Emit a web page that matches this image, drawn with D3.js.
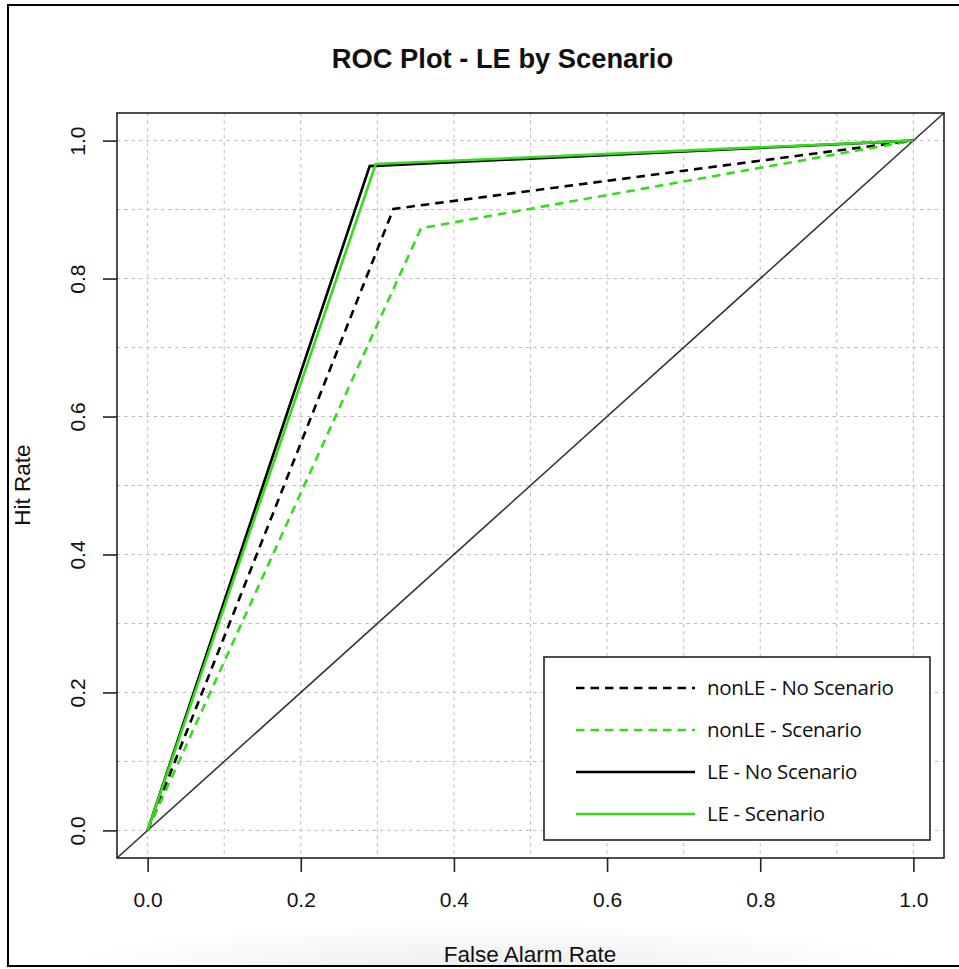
<!DOCTYPE html>
<html>
<head>
<meta charset="utf-8">
<script src="https://cdn.jsdelivr.net/npm/d3@7"></script>
<style>
  html, body { margin: 0; padding: 0; background: #fff; }
  svg { display: block; }
</style>
</head>
<body>
<svg id="chart" width="959" height="969"></svg>
<script>
// ROC curves: one threshold each, so (0,0) -> (fpr,tpr) -> (1,1)
const seriesNames = ['nonLE - No Scenario', 'nonLE - Scenario', 'LE - No Scenario', 'LE - Scenario'];
const falseAlarm = [0.321, 0.357, 0.290, 0.298];
const hitRate = [0.901, 0.873, 0.963, 0.966];
const tickValues = [0, 0.2, 0.4, 0.6, 0.8, 1.0];
const gridValues = [0, 0.1, 0.2, 0.3, 0.4, 0.5, 0.6, 0.7, 0.8, 0.9, 1.0];

const seriesColors = ['#000000', '#33dd1a', '#000000', '#33dd1a'];
const seriesDash = ['8.5,6', '8.5,6', null, null];

const svg = d3.select('#chart');
const box = {left: 117, right: 944, top: 113, bottom: 858};
const fontFam = 'Liberation Sans, Arial, sans-serif';

let x = d3.scaleLinear().domain([-0.04, 1.04]).range([box.left, box.right]);
let y = d3.scaleLinear().domain([-0.04, 1.04]).range([box.bottom, box.top]);

// faint shadow along the bottom of the screenshot
let defs = svg.append('defs');
let grad = defs.append('radialGradient').attr('id', 'shade')
	.attr('cx', 0.5).attr('cy', 1).attr('r', 0.5);
grad.append('stop').attr('offset', '0%').attr('stop-color', '#000').attr('stop-opacity', 0.07);
grad.append('stop').attr('offset', '100%').attr('stop-color', '#000').attr('stop-opacity', 0);
svg.append('rect')
	.attr('x', 60).attr('y', 880).attr('width', 860).attr('height', 86)
	.attr('fill', 'url(#shade)');

// outer frame
svg.append('path')
	.attr('d', 'M970,5 H8 V966 H970')
	.attr('fill', 'none').attr('stroke', '#000').attr('stroke-width', 2);

// grid
let grid = svg.append('g');
grid.selectAll('.gx').data(gridValues).enter().append('line')
	.attr('x1', d => x(d)).attr('x2', d => x(d))
	.attr('y1', box.top).attr('y2', box.bottom)
	.attr('stroke', '#bdbdbd').attr('stroke-width', 1).attr('stroke-dasharray', '3.5,3.8');
grid.selectAll('.gy').data(gridValues).enter().append('line')
	.attr('y1', d => y(d)).attr('y2', d => y(d))
	.attr('x1', box.left).attr('x2', box.right)
	.attr('stroke', '#bdbdbd').attr('stroke-width', 1).attr('stroke-dasharray', '3.5,3.8');

// reference diagonal across the whole plot box
svg.append('line')
	.attr('x1', x(-0.04)).attr('y1', y(-0.04))
	.attr('x2', x(1.04)).attr('y2', y(1.04))
	.attr('stroke', '#333').attr('stroke-width', 1.6);

// curves
let line = d3.line().x(d => x(d[0])).y(d => y(d[1]));
for(let i=0; i<seriesNames.length; i++){
	let pts = [[0, 0], [falseAlarm[i], hitRate[i]], [1, 1]];
	let p = svg.append('path')
		.attr('d', line(pts))
		.attr('fill', 'none')
		.attr('stroke', seriesColors[i])
		.attr('stroke-width', 2.6)
		.attr('stroke-linejoin', 'miter');
	if(seriesDash[i]){
		p.attr('stroke-dasharray', seriesDash[i]);
	}
}

// plot box
svg.append('rect')
	.attr('x', box.left).attr('y', box.top)
	.attr('width', box.right - box.left).attr('height', box.bottom - box.top)
	.attr('fill', 'none').attr('stroke', '#222').attr('stroke-width', 1.6);

// axes
let fmt = d3.format('.1f');
let xAxis = svg.append('g')
	.attr('transform', `translate(0,${box.bottom})`)
	.call(d3.axisBottom(x).tickValues(tickValues).tickFormat(fmt).tickSize(14));
xAxis.select('.domain').remove();
xAxis.selectAll('line').attr('stroke', '#222').attr('stroke-width', 1.6);
xAxis.selectAll('text')
	.attr('y', 49).attr('dy', 0)
	.attr('font-family', fontFam).attr('font-size', '21px').attr('fill', '#111');

let yAxis = svg.append('g')
	.attr('transform', `translate(${box.left},0)`)
	.call(d3.axisLeft(y).tickValues(tickValues).tickFormat(fmt).tickSize(14));
yAxis.select('.domain').remove();
yAxis.selectAll('line').attr('stroke', '#222').attr('stroke-width', 1.6);
yAxis.selectAll('text')
	.attr('x', 0).attr('y', 0).attr('dy', 0)
	.attr('text-anchor', 'middle')
	.attr('transform', 'translate(-32,0) rotate(-90)')
	.attr('font-family', fontFam).attr('font-size', '21px').attr('fill', '#111');

// title and axis labels
svg.append('text')
	.attr('x', 502.5).attr('y', 68)
	.attr('text-anchor', 'middle')
	.attr('font-family', fontFam).attr('font-weight', 'bold').attr('font-size', '27.3px')
	.attr('fill', '#111')
	.text('ROC Plot - LE by Scenario');

svg.append('text')
	.attr('x', 530).attr('y', 962)
	.attr('text-anchor', 'middle')
	.attr('font-family', fontFam).attr('font-size', '22.5px').attr('fill', '#111')
	.text('False Alarm Rate');

svg.append('text')
	.attr('transform', 'translate(30,485) rotate(-90)')
	.attr('text-anchor', 'middle')
	.attr('font-family', fontFam).attr('font-size', '22.5px').attr('fill', '#111')
	.text('Hit Rate');

// legend
let lg = svg.append('g');
lg.append('rect')
	.attr('x', 544).attr('y', 657).attr('width', 386).attr('height', 183)
	.attr('fill', '#fff').attr('stroke', '#222').attr('stroke-width', 1.6);
// grid shows through the legend in the original
grid.clone(true).each(function(){ lg.node().appendChild(this); });
lg.selectAll('line')
	.attr('x1', function(){ return Math.max(544, Math.min(930, +d3.select(this).attr('x1'))); })
	.attr('x2', function(){ return Math.max(544, Math.min(930, +d3.select(this).attr('x2'))); })
	.attr('y1', function(){ return Math.max(657, Math.min(840, +d3.select(this).attr('y1'))); })
	.attr('y2', function(){ return Math.max(657, Math.min(840, +d3.select(this).attr('y2'))); });
lg.selectAll('g').remove();

let rowY = d3.scalePoint().domain(seriesNames).range([688, 814]);
seriesNames.forEach((name, i) => {
	let ly = rowY(name);
	let l = lg.append('line')
		.attr('x1', 576).attr('x2', 695).attr('y1', ly).attr('y2', ly)
		.attr('stroke', seriesColors[i]).attr('stroke-width', 2.6);
	if(seriesDash[i]){
		l.attr('stroke-dasharray', seriesDash[i]);
	}
	lg.append('text')
		.attr('x', 707).attr('y', ly + 7)
		.attr('font-family', 'Open Sans, sans-serif').attr('font-size', '20.5px')
		.attr('letter-spacing', '-0.3px')
		.attr('fill', '#111')
		.text(name);
});
</script>
</body>
</html>
